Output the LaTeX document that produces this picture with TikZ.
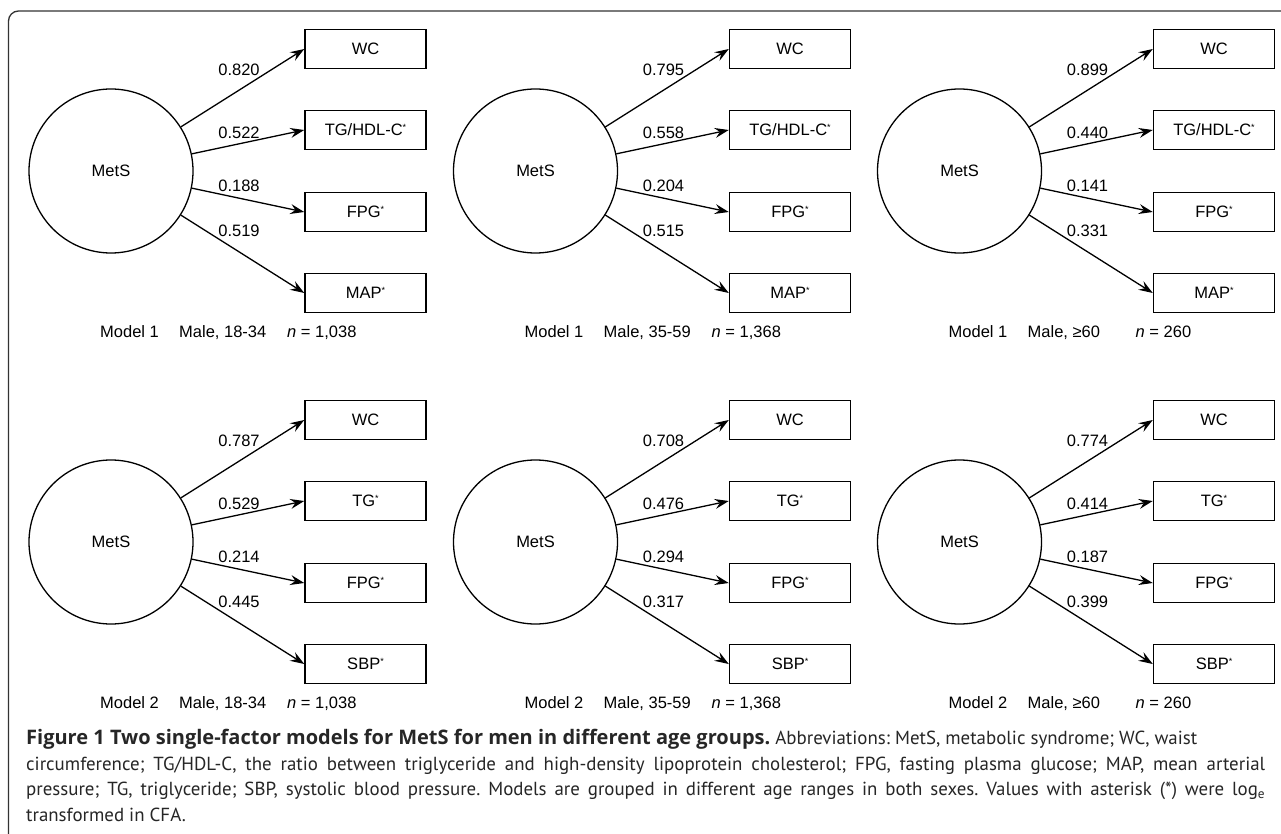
\documentclass[tikz,border=0pt]{standalone}
\usepackage{fontspec}
\setmainfont{Liberation Sans}
\newfontfamily\capfont{PT Sans}
\newfontfamily\capbold{Open Sans Bold}
\usetikzlibrary{arrows.meta}
\frenchspacing
\newcommand\myast{\raisebox{5pt}{\fontsize{9}{9}\selectfont *}}
\newcommand\mypanel[9]{%
  \node[lat] (#1c) at (#2,#3) {MetS};
  \node[obs] (#1b1) at ({#2+254.5},{#3-122}) {WC};
  \node[obs] (#1b2) at ({#2+254.5},{#3-41}) {#4};
  \node[obs] (#1b3) at ({#2+254.5},{#3+41}) {FPG\myast};
  \node[obs] (#1b4) at ({#2+254.5},{#3+122}) {#5};
  \draw[loadarrow] (#1c) -- (#1b1.west);
  \draw[loadarrow] (#1c) -- (#1b2.west);
  \draw[loadarrow] (#1c) -- (#1b3.west);
  \draw[loadarrow] (#1c) -- (#1b4.west);
  \node[coef] (#1l1) at ({#2+128},{#3-101}) {#6};
  \node[coef] (#1l2) at ({#2+128},{#3-38}) {#7};
  \node[coef] (#1l3) at ({#2+128},{#3+15}) {#8};
  \node[coef] (#1l4) at ({#2+128},{#3+60}) {#9};
}
\newcommand\mycap[6]{%
  \node[mlab] (#1m) at ({#2-11},{#3+166}) {#4};
  \node[mlab] (#1a) at ({#2+68},{#3+166}) {#5};
  \node[mlab] (#1n) at ({#2+176},{#3+166}) {\textit{n} = #6};
}
\begin{document}
\begin{tikzpicture}[x=1pt,y=-1pt,
  lat/.style={circle,draw,line width=1.3pt,minimum size=164pt,inner sep=0pt,font=\fontsize{16.5}{19}\selectfont},
  obs/.style={rectangle,draw,line width=1.5pt,minimum width=121pt,minimum height=39pt,inner sep=0pt,font=\fontsize{16.5}{19}\selectfont},
  loadarrow/.style={line width=1.3pt,-{Stealth[length=14pt,width=10pt,inset=5pt]}},
  coef/.style={font=\fontsize{16.5}{19}\selectfont,inner sep=0pt},
  mlab/.style={font=\fontsize{16.5}{19}\selectfont,inner sep=0pt,anchor=base west},
  capl/.style={font=\capfont\fontsize{18.9}{25}\selectfont,inner sep=0pt,anchor=base west,text=black!85}
]
\useasboundingbox (0,0) rectangle (1281,834);
\clip (0,0) rectangle (1281,834);
\fill[white] (0,0) rectangle (1281,834);
\draw[line width=1.3pt,black!80,rounded corners=10pt] (8.5,900) -- (8.5,11) -- (1300,11);

\mypanel{a}{111}{171}{TG/HDL-C\myast}{MAP\myast}{0.820}{0.522}{0.188}{0.519}
\mypanel{b}{535.5}{171}{TG/HDL-C\myast}{MAP\myast}{0.795}{0.558}{0.204}{0.515}
\mypanel{c}{959.5}{171}{TG/HDL-C\myast}{MAP\myast}{0.899}{0.440}{0.141}{0.331}
\mypanel{d}{111}{542}{TG\myast}{SBP\myast}{0.787}{0.529}{0.214}{0.445}
\mypanel{e}{535.5}{542}{TG\myast}{SBP\myast}{0.708}{0.476}{0.294}{0.317}
\mypanel{f}{959.5}{542}{TG\myast}{SBP\myast}{0.774}{0.414}{0.187}{0.399}

\mycap{a}{111}{171}{Model 1}{Male, 18-34}{1,038}
\mycap{b}{535.5}{171}{Model 1}{Male, 35-59}{1,368}
\mycap{c}{959.5}{171}{Model 1}{Male, ≥60}{260}
\mycap{d}{111}{542}{Model 2}{Male, 18-34}{1,038}
\mycap{e}{535.5}{542}{Model 2}{Male, 35-59}{1,368}
\mycap{f}{959.5}{542}{Model 2}{Male, ≥60}{260}

\node[capl] (cap1) at (26,744.5) {{\capbold\fontsize{20}{25}\selectfont Figure 1 Two single-factor models for MetS for men in different age groups.} Abbreviations: MetS, metabolic syndrome; WC, waist};
\node[capl] (cap2) at (26,770) {\makebox[1239pt][s]{circumference; TG/HDL-C, the ratio between triglyceride and high-density lipoprotein cholesterol; FPG, fasting plasma glucose; MAP, mean arterial}};
\node[capl] (cap3) at (26,795.5) {\makebox[1239pt][s]{pressure; TG, triglyceride; SBP, systolic blood pressure. Models are grouped in different age ranges in both sexes. Values with asterisk (*) were log\textsubscript{e}}};
\node[capl] (cap4) at (26,821) {transformed in CFA.};
\end{tikzpicture}
\end{document}
